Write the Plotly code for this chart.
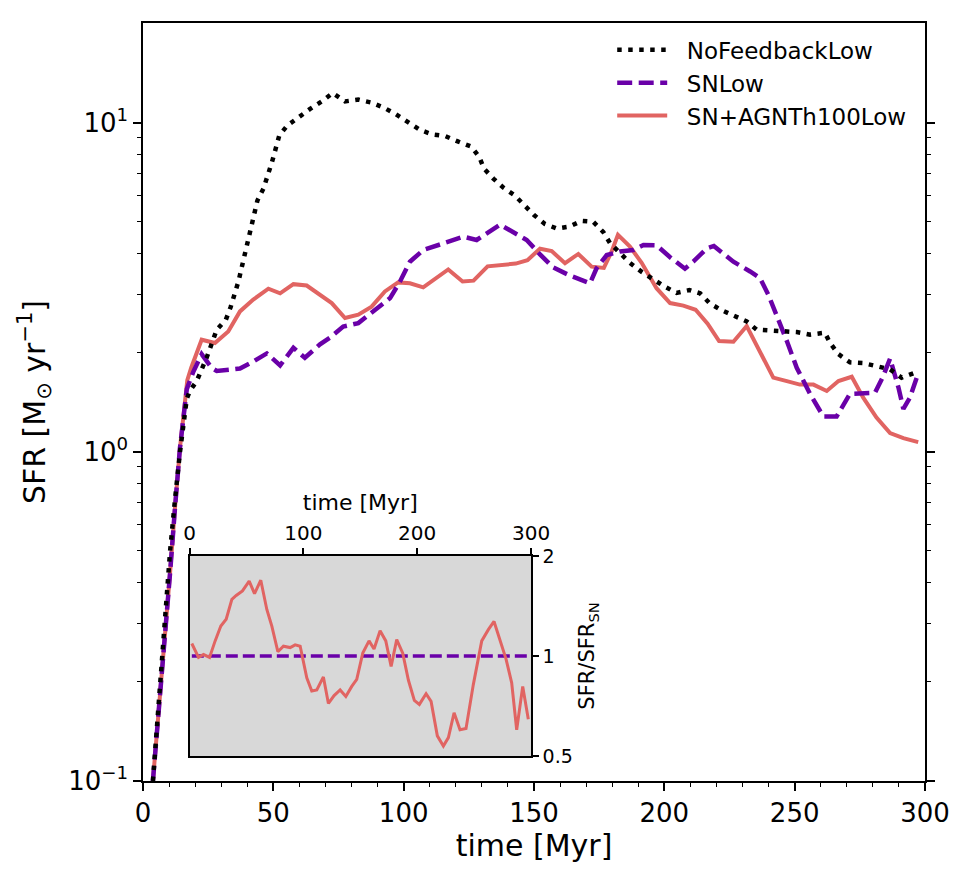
import math
import plotly.graph_objects as go

# ---------------- data ----------------
t_nofb = [3.8, 6.5, 8.4, 10.4, 12.3, 14.2, 16.8, 18.0, 20.6, 24.4, 28.3, 31.8, 33.6, 35.3, 36.7,
          37.9, 39.0, 40.2, 41.3, 42.5, 43.9, 46.2, 48.0, 49.5, 50.9, 52.3, 55.4, 59.7, 64.1, 68.6,
          72.8, 77.5, 82.6, 87.7, 92.4, 97.0, 101.8, 106.3, 111.1, 115.9, 121.0, 126.0, 129.0, 130.8,
          134.4, 138.2, 142.7, 146.5, 150.0, 154.2, 158.7, 163.5, 168.3, 172.7, 176.6, 179.2, 183.0,
          186.8, 191.3, 195.8, 200.3, 204.7, 209.6, 213.7, 217.3, 221.6, 226.5, 231.6, 235.4, 240.5,
          245.0, 250.8, 255.9, 261.6, 263.6, 266.8, 271.2, 276.3, 281.4, 286.6, 291.0, 296.2]
sfr_nofb = [0.1, 0.2, 0.33, 0.5, 0.72, 1.0, 1.45, 1.53, 1.64, 1.93, 2.35, 2.52, 2.75, 3.03, 3.31,
            3.64, 3.98, 4.37, 4.82, 5.28, 5.8, 6.3, 6.92, 7.6, 8.33, 9.15, 9.8, 10.4, 11.0, 11.6,
            12.3, 11.6, 11.75, 11.5, 11.1, 10.6, 10.0, 9.5, 9.2, 9.1, 8.75, 8.45, 7.86, 7.25,
            6.76, 6.35, 6.0, 5.61, 5.24, 4.92, 4.77, 4.83, 5.03, 5.0, 4.65, 4.3, 4.0,
            3.75, 3.52, 3.33, 3.17, 3.04, 3.1, 3.03, 2.83, 2.70, 2.59, 2.49, 2.35, 2.34,
            2.32, 2.31, 2.27, 2.30, 2.14, 1.98, 1.87, 1.86, 1.82, 1.78, 1.68, 1.74]

t_sn = [3.8, 6.5, 8.4, 10.4, 12.3, 14.2, 16.8, 19.3, 22.5, 26.3, 28.3, 32.7, 37.2, 42.3, 47.5,
        52.6, 57.7, 62.1, 67.9, 71.7, 76.8, 82.6, 88.4, 94.8, 98.6, 102.4, 107.5, 112.6, 117.8,
        122.9, 128.0, 132.5, 137.0, 143.4, 147.2, 152.3, 157.4, 163.8, 171.5, 174.0, 177.9, 183.0,
        188.1, 192.0, 197.0, 202.2, 207.9, 211.1, 216.3, 219.0, 226.5, 232.9, 236.7, 239.9, 243.7,
        247.0, 250.8, 255.9, 261.0, 266.1, 271.2, 276.3, 280.8, 284.0, 286.6, 289.8, 291.7, 294.2,
        297.5]
sfr_sn = [0.1, 0.177, 0.28, 0.43, 0.68, 1.03, 1.55, 1.75, 1.98, 1.80, 1.76, 1.78, 1.79, 1.88, 1.99,
          1.83, 2.07, 1.93, 2.12, 2.22, 2.40, 2.46, 2.67, 2.93, 3.29, 3.78, 4.10, 4.23, 4.35,
          4.50, 4.40, 4.65, 4.90, 4.58, 4.40, 3.98, 3.63, 3.43, 3.25, 3.61, 3.96, 4.06,
          4.10, 4.25, 4.24, 3.90, 3.60, 3.78, 4.15, 4.22, 3.78, 3.53, 3.37, 3.00, 2.55,
          2.17, 1.80, 1.50, 1.28, 1.28, 1.50, 1.50, 1.51, 1.70, 1.92, 1.57, 1.35, 1.46,
          1.74]

t_agn = [3.8, 6.5, 8.4, 10.4, 12.3, 14.2, 17.0, 18.5, 22.5, 27.6, 32.7, 37.2, 42.3, 48.1, 52.6,
         57.7, 62.8, 67.9, 72.4, 77.5, 82.6, 87.7, 92.8, 97.9, 102.4, 107.5, 112.6, 117.1, 122.6,
         126.8, 132.2, 138.0, 143.0, 147.5, 152.3, 156.8, 161.9, 167.0, 172.1, 176.8, 179.8, 182.2,
         186.8, 191.3, 197.0, 202.2, 207.3, 212.0, 216.6, 221.0, 226.5, 231.6, 236.7, 241.8, 247.0,
         252.0, 257.2, 262.3, 266.8, 271.9, 276.3, 281.4, 286.6, 291.7, 297.4]
sfr_agn = [0.1, 0.177, 0.28, 0.43, 0.68, 1.03, 1.65, 1.80, 2.19, 2.14, 2.32, 2.67, 2.90, 3.13, 3.03,
           3.23, 3.20, 3.00, 2.83, 2.55, 2.61, 2.76, 3.07, 3.27, 3.25, 3.16, 3.37, 3.58, 3.29,
           3.31, 3.66, 3.71, 3.73, 3.82, 4.14, 4.07, 3.74, 3.99, 3.65, 3.62, 4.06, 4.56,
           4.20, 3.75, 3.14, 2.83, 2.78, 2.70, 2.45, 2.17, 2.16, 2.41, 2.02, 1.68, 1.64,
           1.60, 1.60, 1.53, 1.64, 1.69, 1.46, 1.27, 1.14, 1.10, 1.07]

# inset: ratio to the SN run
t_ratio = [2.0, 7.9, 12.3, 17.6, 22.5, 27.5, 32.2, 37.2, 41.0, 46.5, 52.4, 57.1, 62.6, 67.9, 72.3,
           77.6, 82.5, 88.4, 92.8, 97.2, 103.0, 107.4, 111.8, 117.6, 122.0, 127.0, 132.3, 137.3,
           142.5, 146.9, 152.2, 157.7, 162.1, 167.4, 172.4, 177.1, 182.0, 187.3, 192.3, 197.5,
           201.9, 207.8, 212.2, 217.7, 223.0, 227.4, 232.4, 237.6, 242.9, 249.3, 256.7, 262.5,
           267.5, 272.8, 278.0, 283.0, 287.4, 292.7, 297.6]
ratio_agn = [1.09, 0.99, 1.01, 0.99, 1.11, 1.23, 1.29, 1.48, 1.52, 1.57, 1.68, 1.54, 1.69, 1.38, 1.23,
             1.03, 1.07, 1.06, 1.08, 1.07, 0.86, 0.785, 0.79, 0.865, 0.72, 0.76, 0.79, 0.755,
             0.81, 0.85, 1.02, 1.11, 1.05, 1.19, 1.11, 0.93, 1.12, 1.02, 0.845, 0.735,
             0.715, 0.77, 0.73, 0.575, 0.536, 0.568, 0.675, 0.60, 0.605, 0.82, 1.11, 1.20,
             1.27, 1.11, 0.98, 0.83, 0.60, 0.81, 0.645]
t_ratio_sn = [2.0, 297.6]
ratio_sn = [1.0, 1.0]

names = ["NoFeedbackLow", "SNLow", "SN+AGNTh100Low"]
x_ticks = [0, 50, 100, 150, 200, 250, 300]
x_minor = [v for v in range(10, 300, 10) if v % 50 != 0]
y_ticks = [0.1, 1, 10]
y_ticktext = ["10<sup>\u22121</sup>", "10<sup>0</sup>", "10<sup>1</sup>"]
y_minor = [m * 10 ** e for e in (-1, 0) for m in range(2, 10)]
inset_x_ticks = [0, 100, 200, 300]
inset_y_ticks = [0.5, 1, 2]
inset_y_ticktext = ["0.5", "1", "2"]

# ---------------- styling ----------------
FONT = "DejaVu Sans"
C_BLACK = "#000000"
C_PURPLE = "#6a00a8"
C_RED = "#e16462"
PAD = "\u00a0\u00a0"

fig = go.Figure()
# drawing order: red at the bottom, then purple, then black; legend order via legendrank
fig.add_trace(go.Scatter(x=t_agn, y=sfr_agn, mode="lines", name=PAD + names[2], legendrank=3,
                         line=dict(color=C_RED, width=4)))
fig.add_trace(go.Scatter(x=t_sn, y=sfr_sn, mode="lines", name=PAD + names[1], legendrank=2,
                         line=dict(color=C_PURPLE, width=4.5, dash="15px,6.5px")))
fig.add_trace(go.Scatter(x=t_nofb, y=sfr_nofb, mode="lines", name=PAD + names[0], legendrank=1,
                         line=dict(color=C_BLACK, width=4.5, dash="4.5px,6.5px")))

fig.add_trace(go.Scatter(x=t_ratio_sn, y=ratio_sn, mode="lines", showlegend=False,
                         xaxis="x2", yaxis="y2",
                         line=dict(color=C_PURPLE, width=3.5, dash="12px,5px")))
fig.add_trace(go.Scatter(x=t_ratio, y=ratio_agn, mode="lines", showlegend=False,
                         xaxis="x2", yaxis="y2",
                         line=dict(color=C_RED, width=3)))

axis_common = dict(showline=True, linewidth=1.5, linecolor="black", showgrid=False,
                   zeroline=False, ticks="outside", tickcolor="black", tickwidth=1.5)

fig.update_layout(
    width=966, height=881,
    margin=dict(l=143, r=41, t=20, b=100),
    paper_bgcolor="white", plot_bgcolor="rgba(0,0,0,0)",
    font=dict(family=FONT, color="black"),
    xaxis=dict(axis_common, domain=[0, 1], range=[0, 300], mirror=True,
               tickmode="array", tickvals=x_ticks, ticklen=8,
               tickfont=dict(size=26),
               minor=dict(tickmode="array", tickvals=x_minor, ticks="outside", ticklen=4,
                          tickwidth=1, tickcolor="black"),
               title=dict(text="time [Myr]", font=dict(size=30), standoff=8)),
    yaxis=dict(axis_common, domain=[0, 1], type="log", range=[-1, math.log10(20.07)],
               mirror="allticks", tickmode="array", tickvals=y_ticks, ticktext=y_ticktext,
               ticklen=8, tickfont=dict(size=26),
               minor=dict(tickmode="array", tickvals=y_minor, ticks="outside", ticklen=4,
                          tickwidth=1, tickcolor="black"),
               title=dict(text="SFR [M<sub>\u2299</sub> yr<sup>\u22121</sup>]",
                          font=dict(size=30), standoff=14)),
    xaxis2=dict(axis_common, domain=[0.0595, 0.4962], anchor="y2", side="top", range=[0, 300],
                mirror=True, tickmode="array", tickvals=inset_x_ticks, ticklen=6,
                tickfont=dict(size=20),
                title=dict(text="time [Myr]", font=dict(size=22), standoff=4)),
    yaxis2=dict(axis_common, domain=[0.0329, 0.297], anchor="x2", side="right", type="log",
                range=[math.log10(0.5), math.log10(2)], mirror=True, tickmode="array",
                tickvals=inset_y_ticks, ticktext=inset_y_ticktext, ticklen=6,
                tickfont=dict(size=19),
                title=dict(text="SFR/SFR<sub>SN</sub>", font=dict(size=21), standoff=8)),
    shapes=[dict(type="rect", xref="x2 domain", yref="y2 domain", x0=0, x1=1, y0=0, y1=1,
                 fillcolor="#d8d8d8", line=dict(width=0), layer="below")],
    legend=dict(x=0.6, y=0.993, xanchor="left", yanchor="top", bgcolor="rgba(0,0,0,0)",
                font=dict(size=23), itemwidth=50, tracegroupgap=0),
)

fig.write_html("out.html")
